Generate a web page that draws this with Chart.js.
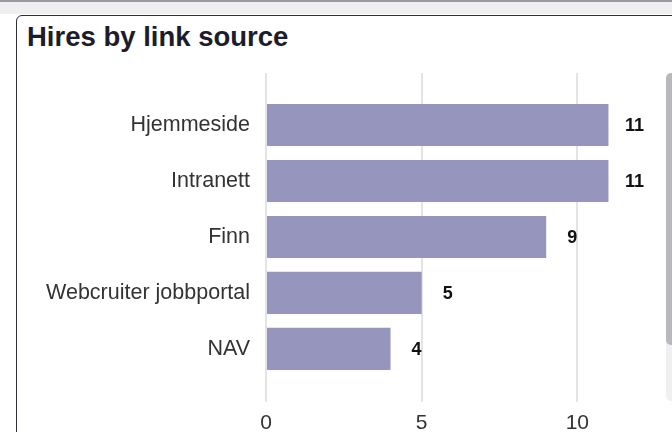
<!DOCTYPE html>
<html>
<head>
<meta charset="utf-8">
<script src="https://cdn.jsdelivr.net/npm/chart.js@4"></script>
<style>
  html, body { margin: 0; padding: 0; width: 672px; height: 432px; overflow: hidden; background: #ffffff; font-family: "Liberation Sans", Arial, sans-serif; }
  #topstrip { position: absolute; left: 0; top: 0; width: 672px; height: 14px; background: #efeff1; border-top: 2px solid #9a9aa2; box-sizing: border-box; }
  #card { position: absolute; left: 16px; top: 15px; width: 720px; height: 500px; border: 1.5px solid #2e2e3c; border-radius: 6px; background: #ffffff; box-sizing: border-box; }
  #title { position: absolute; left: 27px; top: 23px; font-size: 27.5px; line-height: 27.5px; font-weight: bold; color: #1c1c2a; white-space: nowrap; }
  #wrap { position: absolute; left: 0; top: 60px; width: 760px; height: 372px; }
  #track { position: absolute; left: 666px; top: 73px; width: 12px; height: 328px; background: #f0f0f2; border-radius: 5px; }
  #thumb { position: absolute; left: 666px; top: 73px; width: 12px; height: 272px; background: #b9b9bd; border-radius: 5px; }
</style>
</head>
<body>
<div id="topstrip"></div>
<div id="card"></div>
<div id="title">Hires by link source</div>
<div id="wrap"><canvas id="c" width="760" height="372"></canvas></div>
<div id="track"></div>
<div id="thumb"></div>
<script>
const categories = ["Hjemmeside", "Intranett", "Finn", "Webcruiter jobbportal", "NAV"];
const hires = [11, 11, 9, 5, 4];
const xTicks = [0, 5, 10, 15];

const valueLabels = {
  id: 'valueLabels',
  afterDatasetsDraw(chart) {
    const ctx = chart.ctx;
    const meta = chart.getDatasetMeta(0);
    ctx.save();
    ctx.font = 'bold 18px "Liberation Sans", Arial, sans-serif';
    ctx.fillStyle = '#111111';
    ctx.textAlign = 'center';
    ctx.textBaseline = 'middle';
    meta.data.forEach((el, i) => {
      ctx.fillText(String(hires[i]), el.x + 26, el.y + 1);
    });
    ctx.restore();
  }
};

new Chart(document.getElementById('c'), {
  type: 'bar',
  data: {
    datasets: [{
      data: categories.map((c, i) => ({ x: hires[i], y: i })),
      backgroundColor: '#9595bd',
      borderWidth: 0,
      categoryPercentage: 0.8,
      barPercentage: 0.94
    }]
  },
  options: {
    indexAxis: 'y',
    responsive: false,
    animation: false,
    devicePixelRatio: 1,
    layout: { padding: { top: 13, right: 27, left: 0, bottom: 0 } },
    plugins: { legend: { display: false }, tooltip: { enabled: false } },
    scales: {
      x: {
        type: 'linear',
        min: 0,
        max: 15,
        afterBuildTicks(scale) { scale.ticks = xTicks.map(v => ({ value: v })); },
        afterFit(scale) { scale.height = 30; scale.paddingLeft = 0; scale.paddingRight = 0; },
        grid: { color: '#e3e3e8', lineWidth: 2, drawTicks: false },
        border: { display: false },
        ticks: { padding: 9, color: '#333333', font: { family: '"Liberation Sans", Arial, sans-serif', size: 21 } }
      },
      y: {
        type: 'linear',
        reverse: true,
        offset: false,
        min: -0.93,
        max: 4.95,
        afterBuildTicks(scale) { scale.ticks = categories.map((c, i) => ({ value: i })); },
        afterFit(scale) { scale.width = 266; scale.paddingTop = 0; scale.paddingBottom = 0; },
        grid: { display: false, drawTicks: false, offset: false },
        border: { display: false },
        ticks: {
          padding: 16,
          color: '#333333',
          font: { family: '"Liberation Sans", Arial, sans-serif', size: 21.5 },
          callback: (v) => categories[v] !== undefined ? categories[v] : ''
        }
      }
    }
  },
  plugins: [valueLabels]
});
</script>
</body>
</html>
